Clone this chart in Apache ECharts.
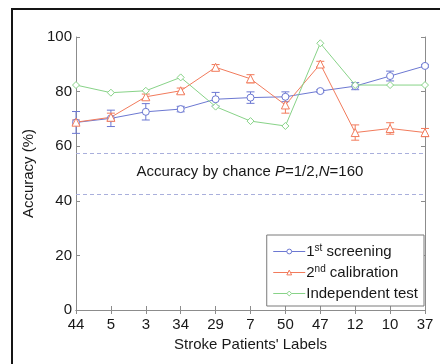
<!DOCTYPE html>
<html>
<head>
<meta charset="utf-8">
<script src="https://cdn.jsdelivr.net/npm/echarts@6/dist/echarts.min.js"></script>
<style>
  html, body { margin: 0; padding: 0; background: #fff; }
  #chart { width: 440px; height: 364px; }
</style>
</head>
<body>
<div id="chart"></div>
<script>
// patient labels on the x axis
const patients = ["44", "5", "3", "34", "29", "7", "50", "47", "12", "10", "37"];

// accuracy (%) per patient
const screening = [68.7, 70.2, 72.6, 73.6, 77.2, 77.8, 78.1, 80.2, 82.0, 85.7, 89.4];
const calibration = [68.8, 70.6, 78.1, 80.3, 88.9, 84.7, 75.1, 90.1, 65.0, 66.5, 65.0];
const independent = [82.4, 79.6, 80.3, 85.2, 74.5, 69.2, 67.4, 97.7, 82.4, 82.4, 82.4];

// half-length of the error bars
const screeningErr = [4.0, 3.0, 3.0, 1.0, 2.5, 2.1, 1.8, 0.5, 1.3, 1.8, 0.5];
const calibrationErr = [0.8, 1.5, 1.0, 1.0, 1.0, 1.5, 3.0, 1.0, 2.8, 2.1, 1.5];

// chance level band
const chanceLevels = [57.5, 42.5];

const BLUE = "#6c78d2";
const RED = "#f27b5c";
const GREEN = "#88d388";
const AXIS = "#8c8c8c";
const TEXT = "#181818";
const FONT = "Liberation Sans, Arial, sans-serif";

function errorBars(values, errs) {
  return values.map((v, i) => [i, v - errs[i], v + errs[i]]);
}

function errorBarSeries(values, errs, color) {
  return {
    type: "custom",
    silent: true,
    z: 3,
    data: errorBars(values, errs),
    renderItem: function (params, api) {
      const lo = api.coord([api.value(0), api.value(1)]);
      const hi = api.coord([api.value(0), api.value(2)]);
      const w = 4;
      const style = { stroke: color, lineWidth: 1, fill: null };
      return {
        type: "group",
        children: [
          { type: "line", shape: { x1: lo[0], y1: lo[1], x2: hi[0], y2: hi[1] }, style: style },
          { type: "line", shape: { x1: lo[0] - w, y1: lo[1], x2: lo[0] + w, y2: lo[1] }, style: style },
          { type: "line", shape: { x1: hi[0] - w, y1: hi[1], x2: hi[0] + w, y2: hi[1] }, style: style },
        ],
      };
    },
  };
}

function lineSeries(name, values, symbol, color) {
  return {
    name: name,
    type: "line",
    data: values,
    symbol: symbol,
    symbolSize: symbol === "triangle" ? 8 : 7,
    showSymbol: true,
    z: 4,
    lineStyle: { color: color, width: 1 },
    itemStyle: { color: "#fff", borderColor: color, borderWidth: 1 },
    emphasis: { disabled: true },
  };
}

const chart = echarts.init(document.getElementById("chart"));

const blue = lineSeries("1st screening", screening, "circle", BLUE);
blue.markLine = {
  silent: true,
  symbol: "none",
  label: { show: false },
  lineStyle: { color: "#a9afdc", type: [4, 3], width: 1 },
  data: chanceLevels.map((v) => ({ yAxis: v })),
};

chart.setOption({
  animation: false,
  backgroundColor: "#fff",
  textStyle: { fontFamily: FONT },
  grid: { left: 76, right: 15, top: 37, bottom: 54 },
  xAxis: [
    {
      type: "category",
      data: patients,
      boundaryGap: false,
      name: "Stroke Patients' Labels",
      nameLocation: "middle",
      nameGap: 20,
      nameTextStyle: { color: TEXT, fontSize: 15, fontFamily: FONT },
      axisLine: { lineStyle: { color: AXIS, width: 1 } },
      axisTick: { inside: true, length: 4, lineStyle: { color: AXIS } },
      axisLabel: { color: TEXT, fontSize: 15, margin: 7, fontFamily: FONT },
      splitLine: { show: false },
    },
    {
      type: "category",
      data: patients,
      boundaryGap: false,
      position: "top",
      axisLine: { lineStyle: { color: AXIS, width: 1 } },
      axisTick: { inside: true, length: 4, lineStyle: { color: AXIS } },
      axisLabel: { show: false },
      splitLine: { show: false },
    },
  ],
  yAxis: [
    {
      type: "value",
      min: 0,
      max: 100,
      interval: 20,
      name: "Accuracy (%)",
      nameLocation: "middle",
      nameGap: 33,
      nameTextStyle: { color: TEXT, fontSize: 15, fontFamily: FONT },
      axisLine: { show: true, lineStyle: { color: AXIS, width: 1 } },
      axisTick: { show: true, inside: true, length: 4, lineStyle: { color: AXIS } },
      axisLabel: { color: TEXT, fontSize: 15, margin: 4, fontFamily: FONT },
      splitLine: { show: false },
    },
    {
      type: "value",
      min: 0,
      max: 100,
      interval: 20,
      position: "right",
      axisLine: { show: true, lineStyle: { color: AXIS, width: 1 } },
      axisTick: { show: true, inside: true, length: 4, lineStyle: { color: AXIS } },
      axisLabel: { show: false },
      splitLine: { show: false },
    },
  ],
  legend: {
    orient: "vertical",
    right: 16,
    top: 235,
    padding: [8, 6, 4, 6],
    itemGap: 4,
    itemWidth: 32,
    itemHeight: 6,
    borderColor: "#7a7a7a",
    borderWidth: 1,
    backgroundColor: "#fff",
    itemStyle: { borderWidth: 1 },
    lineStyle: { width: 1 },
    data: ["1st screening", "2nd calibration", "Independent test"],
    formatter: function (name) {
      if (name === "1st screening") return "1{sup|st} screening";
      if (name === "2nd calibration") return "2{sup|nd} calibration";
      return name;
    },
    textStyle: {
      color: TEXT,
      fontSize: 15,
      fontFamily: FONT,
      lineHeight: 17,
      padding: [0, 0, 0, -4],
      rich: {
        sup: { fontSize: 10, verticalAlign: "top", lineHeight: 17, fontFamily: FONT, color: TEXT },
      },
    },
  },
  graphic: [
    {
      type: "polyline",
      silent: true,
      shape: { points: [[12, 364], [12, 9], [440, 9]] },
      style: { stroke: "#151515", lineWidth: 2, fill: null },
    },
    {
      type: "text",
      silent: true,
      z: 10,
      style: {
        x: 250,
        y: 172,
        align: "center",
        verticalAlign: "middle",
        text: "Accuracy by chance {it|P}=1/2,{it|N}=160",
        fontSize: 15,
        fontFamily: FONT,
        fill: TEXT,
        rich: {
          it: { fontStyle: "italic", fontSize: 15, fontFamily: FONT, fill: TEXT, color: TEXT },
        },
      },
    },
  ],
  series: [
    blue,
    lineSeries("2nd calibration", calibration, "triangle", RED),
    lineSeries("Independent test", independent, "diamond", GREEN),
    errorBarSeries(screening, screeningErr, BLUE),
    errorBarSeries(calibration, calibrationErr, RED),
  ],
});
</script>
</body>
</html>
